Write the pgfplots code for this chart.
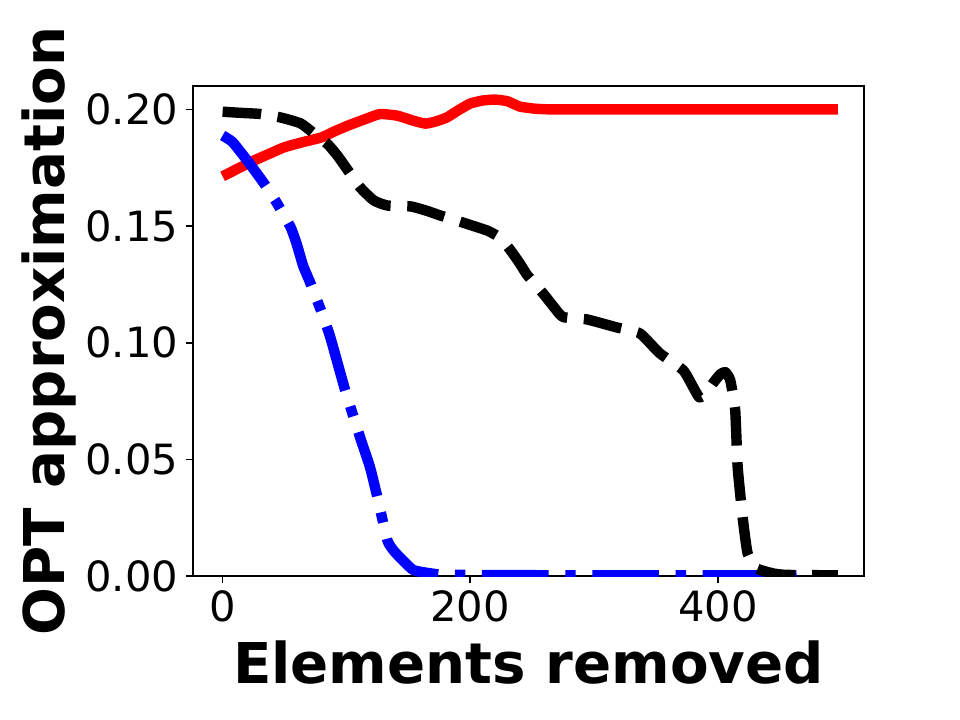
\documentclass[border=0pt]{standalone}
\usepackage{pgfplots}
\pgfplotsset{compat=1.18}
\usepackage{fontspec}
\setmainfont{DejaVu Sans}
\begin{document}
\begin{tikzpicture}
\useasboundingbox (-92.6pt,-69.1pt) rectangle (368.2pt,276.5pt);
\begin{axis}[
  at={(0,0)}, anchor=south west,
  scale only axis, width=322.1pt, height=235.2pt,
  xmin=-24, xmax=518, ymin=0, ymax=0.21,
  xtick={0,200,400}, ytick={0,0.05,0.1,0.15,0.2},
  scaled y ticks=false,
  yticklabel style={/pgf/number format/fixed, /pgf/number format/fixed zerofill, /pgf/number format/precision=2},
  /pgf/number format/assume math mode=true,
  tick align=outside, major tick length=3.5pt,
  xtick pos=bottom, ytick pos=left,
  tick style={black, line width=0.8pt},
  axis line style={line width=0.8pt},
  ticklabel style={font=\fontsize{20}{24}\selectfont},
  xlabel={Elements removed}, ylabel={OPT approximation},
  xlabel style={font=\fontsize{27}{32}\selectfont\bfseries, at={(axis description cs:0.5,0)}, anchor=base, yshift=-51.4pt},
  ylabel style={font=\fontsize{27}{32}\selectfont\bfseries, at={(axis description cs:0,0.5)}, anchor=base, yshift=61.4pt},
  every axis plot/.append style={line width=5pt, line join=round, smooth, tension=0.3},
]
\addplot[color={rgb,255:red,255;green,0;blue,0}] coordinates {
(0,0.1713) (10,0.1740) (25,0.1780) (40,0.1815) (50,0.1838) (65,0.1860) (80,0.1880) (90,0.1905) (101,0.1930) (115,0.1958) (127,0.1980) (141,0.1973) (155,0.1950) (164,0.1939) (172,0.1948) (181,0.1965) (190,0.1995) (200,0.2025) (210,0.2038) (220,0.2042) (230,0.2035) (240,0.2012) (252,0.2003) (265,0.2000) (300,0.2000) (400,0.2000) (497,0.2000)
};
\addplot[color={rgb,255:red,0;green,0;blue,255}, dash pattern=on 32pt off 8pt on 5pt off 8pt] coordinates {
(0,0.1888) (8,0.1860) (20,0.1780) (33,0.1686) (44,0.1597) (55,0.1494) (60,0.1420) (65,0.1330) (71,0.1254) (80,0.1130) (87,0.1023) (99,0.0796) (111,0.0595) (119,0.0467) (125,0.0338) (133,0.0154) (138,0.0110) (143,0.0081) (154,0.0026) (170,0.0010) (185,0.0005) (300,0.0003) (497,0.0003)
};
\addplot[black, dash pattern=on 18.5pt off 8pt] coordinates {
(0,0.1990) (15,0.1985) (31,0.1980) (47,0.1965) (63,0.1940) (73,0.1900) (85,0.1850) (93,0.1800) (101,0.1740) (111,0.1666) (122,0.1610) (133,0.1588) (152,0.1584) (165,0.1565) (176,0.1545) (194,0.1515) (214,0.1480) (224,0.1450) (232,0.1400) (240,0.1340) (246,0.1290) (259,0.1210) (268,0.1150) (275,0.1110) (294,0.1100) (318,0.1066) (337,0.1040) (353,0.0955) (372,0.0882) (380,0.0810) (385,0.0766) (390,0.0780) (396,0.0826) (402,0.0865) (406,0.0874) (410,0.0839) (414,0.0710) (416,0.0467) (420,0.0252) (424,0.0098) (431,0.0034) (444,0.0012) (455,0.0005) (497,0.0003)
};
\end{axis}
\end{tikzpicture}
\end{document}
